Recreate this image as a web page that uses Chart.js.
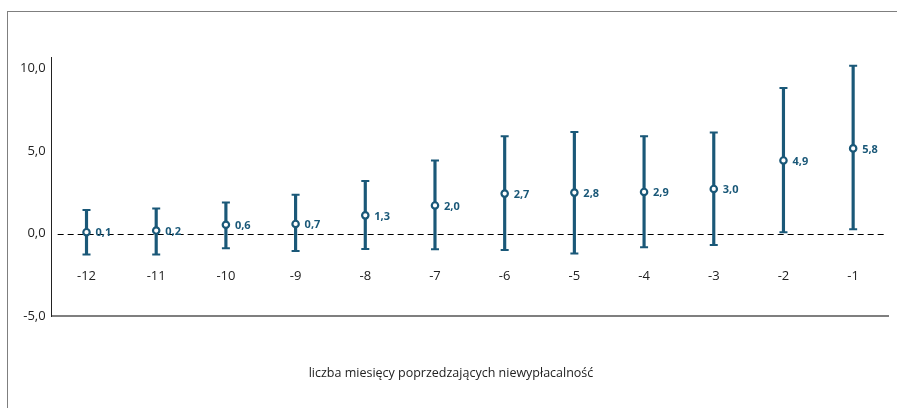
<!DOCTYPE html>
<html><head><meta charset="utf-8">
<script src="https://cdn.jsdelivr.net/npm/chart.js@4"></script>
<style>
html,body{margin:0;padding:0;background:#fff;}
#wrap{position:relative;width:897px;height:408px;overflow:hidden;}
#box{position:absolute;left:7px;top:11px;right:-5px;bottom:-5px;border-left:1.5px solid #7f7f7f;border-top:1.5px solid #7f7f7f;}
canvas{position:absolute;left:0;top:0;}
</style></head><body>
<div id="wrap"><div id="box"></div><canvas id="c" width="897" height="408"></canvas></div>
<script>
const categories = ['-12','-11','-10','-9','-8','-7','-6','-5','-4','-3','-2','-1'];
const pointValues = [0.08, 0.18, 0.53, 0.58, 1.10, 1.70, 2.42, 2.48, 2.52, 2.70, 4.43, 5.16];
const lowValues   = [-1.27, -1.27, -0.90, -1.06, -0.94, -0.96, -1.00, -1.21, -0.84, -0.69, 0.08, 0.26];
const highValues  = [1.43, 1.51, 1.88, 2.35, 3.19, 4.42, 5.89, 6.15, 5.90, 6.12, 8.82, 10.17];
const pointLabels = ['0,1','0,2','0,6','0,7','1,3','2,0','2,7','2,8','2,9','3,0','4,9','5,8'];
const yTicks = [-5, 0, 5, 10];
const axisTitle = 'liczba miesięcy poprzedzających niewypłacalność';

const BLUE = '#1a5878';
const FONT = "'Open Sans', 'Noto Sans', sans-serif";

const zeroLine = {
  id: 'zeroLine',
  beforeDatasetsDraw(chart) {
    const {ctx, chartArea, scales} = chart;
    const y = Math.round(scales.y.getPixelForValue(0)) + 0.5;
    ctx.save();
    ctx.strokeStyle = '#000';
    ctx.lineWidth = 1;
    ctx.setLineDash([6, 4]);
    ctx.beginPath();
    ctx.moveTo(chartArea.left + 6, y);
    ctx.lineTo(chartArea.right - 2, y);
    ctx.stroke();
    ctx.restore();
  }
};

const valueLabels = {
  id: 'valueLabels',
  afterDatasetsDraw(chart) {
    const {ctx} = chart;
    const meta = chart.getDatasetMeta(2);
    ctx.save();
    ctx.font = "bold 11px " + FONT;
    ctx.fillStyle = BLUE;
    ctx.textAlign = 'left';
    ctx.textBaseline = 'middle';
    meta.data.forEach((pt, i) => {
      ctx.fillText(pointLabels[i], pt.x + 9, pt.y + 1);
    });
    ctx.restore();
  }
};

new Chart(document.getElementById('c'), {
  type: 'bar',
  data: {
    labels: categories,
    datasets: [
      {
        type: 'bar',
        data: lowValues.map((l, i) => [l, highValues[i]]),
        backgroundColor: BLUE,
        borderWidth: 0,
        barThickness: 2.5,
        order: 3
      },
      {
        type: 'line',
        data: lowValues,
        showLine: false,
        pointStyle: 'line',
        pointRadius: 4,
        pointBorderWidth: 2,
        pointBorderColor: BLUE,
        order: 2
      },
      {
        type: 'line',
        data: pointValues,
        showLine: false,
        pointStyle: 'circle',
        pointRadius: 3.2,
        pointBorderWidth: 2.2,
        pointBorderColor: BLUE,
        pointBackgroundColor: '#fff',
        order: 1
      },
      {
        type: 'line',
        data: highValues,
        showLine: false,
        pointStyle: 'line',
        pointRadius: 4,
        pointBorderWidth: 2,
        pointBorderColor: BLUE,
        order: 2
      }
    ]
  },
  options: {
    responsive: false,
    animation: false,
    layout: { padding: { left: 14, right: 9, top: 57, bottom: 0 } },
    plugins: {
      legend: { display: false },
      tooltip: { enabled: false },
      title: {
        display: true,
        position: 'bottom',
        text: axisTitle,
        color: '#222',
        font: { family: FONT, size: 12.5, weight: 'normal', lineHeight: 1.2 },
        padding: { top: 50, bottom: 27 }
      }
    },
    scales: {
      x: {
        type: 'category',
        position: { y: -2 },
        offset: true,
        grid: { display: false, drawTicks: false },
        border: { display: false },
        ticks: { color: '#222', font: { family: FONT, size: 13 }, padding: 2 }
      },
      x2: {
        type: 'linear',
        position: 'bottom',
        min: 0, max: 1,
        grid: { display: false, drawTicks: false },
        border: { display: true, color: '#7f7f7f', width: 2 },
        ticks: { display: false }
      },
      y: {
        min: -5,
        max: 10.7,
        afterBuildTicks(scale) { scale.ticks = yTicks.map(v => ({ value: v })); },
        grid: { display: false, drawTicks: false },
        border: { display: true, color: '#222', width: 1 },
        ticks: {
          color: '#222',
          font: { family: FONT, size: 13 },
          padding: 6,
          callback: v => Number(v).toFixed(1).replace('.', ',')
        }
      }
    }
  },
  plugins: [zeroLine, valueLabels]
});
</script>
</body></html>
